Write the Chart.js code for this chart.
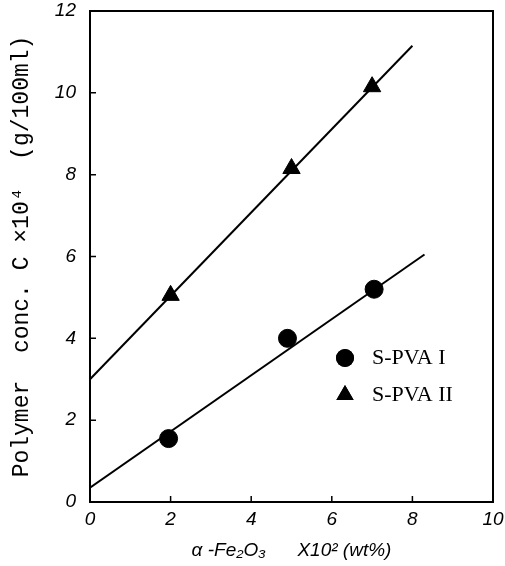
<!DOCTYPE html>
<html>
<head>
<meta charset="utf-8">
<script src="https://cdn.jsdelivr.net/npm/chart.js@4"></script>
<style>
  html, body { margin: 0; padding: 0; background: #fff; }
  #wrap { width: 505px; height: 566px; }
</style>
</head>
<body>
<div id="wrap"><canvas id="chart"></canvas></div>
<script>
// measured points
const pva1X = [1.95, 4.9, 7.05];
const pva1Y = [1.55, 4.0, 5.2];
const pva2X = [2.0, 5.0, 7.0];
const pva2Y = [5.05, 8.15, 10.15];

// fitted straight lines (end points)
const fit1X = [0, 8.3];
const fit1Y = [0.35, 6.05];
const fit2X = [0, 8.0];
const fit2Y = [3.0, 11.15];

const seriesNames = ['S-PVA I', 'S-PVA II'];
const xTicks = [0, 2, 4, 6, 8, 10];
const yTicks = [0, 2, 4, 6, 8, 10, 12];

const toXY = (xs, ys) => xs.map((x, i) => ({ x: x, y: ys[i] }));

// box + inward ticks
const framePlugin = {
    id: 'frame',
    afterDatasetsDraw: function(chart) {
        const ctx = chart.ctx;
        const a = chart.chartArea;
        const xs = chart.scales.x;
        const ys = chart.scales.y;
        ctx.save();
        ctx.strokeStyle = '#000';
        ctx.lineWidth = 2;
        ctx.strokeRect(a.left, a.top, a.right - a.left, a.bottom - a.top);
        ctx.lineWidth = 1.5;
        ctx.beginPath();
        xTicks.forEach((v) => {
            const px = xs.getPixelForValue(v);
            ctx.moveTo(px, a.bottom);
            ctx.lineTo(px, a.bottom - 6);
        });
        yTicks.forEach((v) => {
            const py = ys.getPixelForValue(v);
            ctx.moveTo(a.left, py);
            ctx.lineTo(a.left + 6, py);
        });
        ctx.stroke();
        ctx.restore();
    }
};

// legend inside the plot
const legendPlugin = {
    id: 'innerLegend',
    afterDraw: function(chart) {
        const ctx = chart.ctx;
        ctx.save();
        ctx.fillStyle = '#000';
        ctx.font = '22px "Liberation Serif"';
        ctx.textBaseline = 'middle';
        const rows = [
            { name: seriesNames[0], style: 'circle', r: 9, y: 358 },
            { name: seriesNames[1], style: 'triangle', r: 10, y: 395 },
        ];
        rows.forEach((r) => {
            Chart.helpers.drawPoint(ctx, { pointStyle: r.style, radius: r.r, borderWidth: 0 }, 345, r.y);
            ctx.fill();
            ctx.fillText(r.name, 372, r.y);
        });
        ctx.restore();
    }
};

new Chart(document.getElementById('chart'), {
    type: 'scatter',
    data: {
        datasets: [
            {
                label: seriesNames[0],
                data: toXY(pva1X, pva1Y),
                pointStyle: 'circle',
                pointRadius: 9,
                backgroundColor: '#000',
                borderColor: '#000',
            },
            {
                label: seriesNames[1],
                data: toXY(pva2X, pva2Y),
                pointStyle: 'triangle',
                pointRadius: 10,
                backgroundColor: '#000',
                borderColor: '#000',
            },
            {
                label: 'fit1',
                data: toXY(fit1X, fit1Y),
                showLine: true,
                pointRadius: 0,
                borderColor: '#000',
                borderWidth: 2,
            },
            {
                label: 'fit2',
                data: toXY(fit2X, fit2Y),
                showLine: true,
                pointRadius: 0,
                borderColor: '#000',
                borderWidth: 2,
            },
        ],
    },
    options: {
        responsive: true,
        maintainAspectRatio: false,
        animation: false,
        layout: {
            padding: { left: 0, right: 12, top: 11, bottom: 0 },
        },
        plugins: {
            legend: { display: false },
            tooltip: { enabled: false },
        },
        scales: {
            x: {
                type: 'linear',
                min: 0,
                max: 10,
                afterFit: function(scale) {
                    scale.height = 64;
                    scale.paddingLeft = 0;
                    scale.paddingRight = 0;
                },
                afterBuildTicks: function(scale) {
                    scale.ticks = xTicks.map((v) => ({ value: v }));
                },
                grid: { display: false, drawTicks: false },
                border: { display: false },
                ticks: {
                    padding: 6,
                    color: '#000',
                    font: { family: '"Liberation Sans"', size: 19, style: 'italic' },
                },
                title: {
                    display: true,
                    text: 'α -Fe₂O₃      X10² (wt%)',
                    color: '#000',
                    padding: { top: 2 },
                    font: { family: '"Liberation Sans"', size: 19, style: 'italic' },
                },
            },
            y: {
                type: 'linear',
                min: 0,
                max: 12,
                afterFit: function(scale) {
                    scale.width = 90;
                    scale.paddingTop = 0;
                    scale.paddingBottom = 0;
                },
                afterBuildTicks: function(scale) {
                    scale.ticks = yTicks.map((v) => ({ value: v }));
                },
                grid: { display: false, drawTicks: false },
                border: { display: false },
                ticks: {
                    padding: 14,
                    color: '#000',
                    font: { family: '"Liberation Sans"', size: 19, style: 'italic' },
                },
                title: {
                    display: true,
                    text: 'Polymer  conc. C ×10⁴  (g/100ml)',
                    color: '#000',
                    padding: { top: 8, bottom: 0 },
                    font: { family: '"Liberation Mono"', size: 23 },
                },
            },
        },
    },
    plugins: [framePlugin, legendPlugin],
});
</script>
</body>
</html>
